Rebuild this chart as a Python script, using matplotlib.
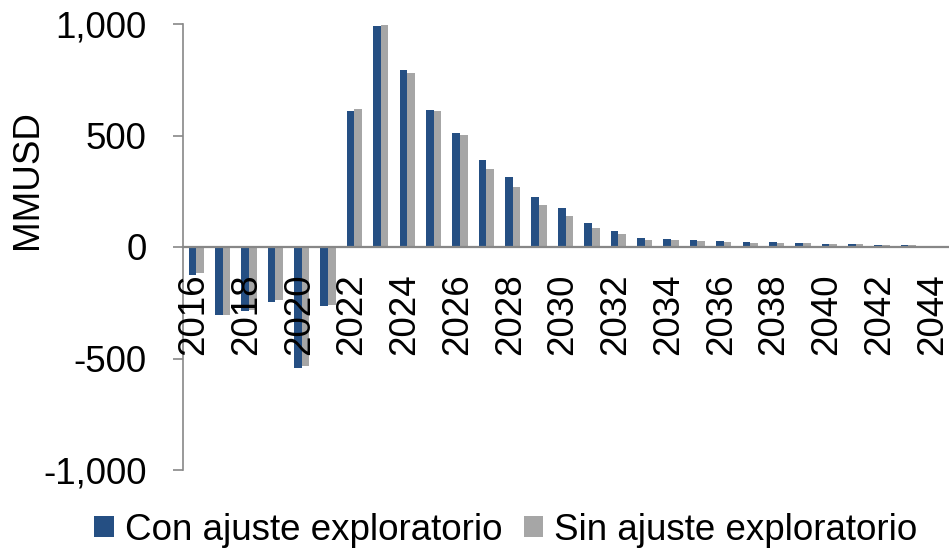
import matplotlib
matplotlib.use("Agg")
import matplotlib.pyplot as plt
from matplotlib.ticker import FuncFormatter, FixedLocator
from matplotlib.transforms import ScaledTranslation
import numpy as np

plt.rcParams['font.family'] = ['Liberation Sans', 'DejaVu Sans']

years = list(range(2016, 2045))
con_ajuste = [-125, -305, -287, -245, -543, -264, 609, 991, 794, 615, 512, 388, 315,
              224, 173, 108, 72, 41, 36, 31, 27, 24, 21, 17, 15, 12, 9, 9, 0]
sin_ajuste = [-118, -305, -282, -239, -533, -261, 620, 997, 779, 612, 503, 351, 269,
              187, 140, 84, 60, 33, 30, 26, 22, 20, 17, 17, 12, 12, 9, 7, 0]
series_names = ["Con ajuste exploratorio", "Sin ajuste exploratorio"]
y_ticks = [-1000, -500, 0, 500, 1000]

BLUE = "#254F83"
GRAY = "#A6A6A6"
AXIS = "#878787"
FS = 26.5

W, H = 949, 554
fig = plt.figure(figsize=(W / 100, H / 100), dpi=100)
ax = fig.add_axes([183 / W, 1 - 470 / H, (948 - 183) / W, (470 - 24) / H])
ax.set_axisbelow(False)  # category labels sit on top of the bars

x = np.arange(len(years))
bw = 0.29
ax.bar(x - bw / 2, con_ajuste, width=bw, color=BLUE, label=series_names[0], zorder=2)
ax.bar(x + bw / 2, sin_ajuste, width=bw, color=GRAY, label=series_names[1], zorder=2)

ax.set_xlim(-0.5, len(years) - 0.5)
ax.set_ylim(-1000, 1000)

# Spines: left axis and category axis through zero
for s in ("top", "right"):
    ax.spines[s].set_visible(False)
ax.spines["left"].set_color(AXIS)
ax.spines["left"].set_linewidth(1.2)
ax.spines["bottom"].set_position(("data", 0))
ax.spines["bottom"].set_color(AXIS)
ax.spines["bottom"].set_linewidth(1.6)
ax.spines["bottom"].set_zorder(3)

ax.yaxis.set_major_locator(FixedLocator(y_ticks))
ax.yaxis.set_major_formatter(FuncFormatter(lambda v, p: f"{v:,.0f}"))
ax.tick_params(axis="y", direction="out", length=7, width=1.2, color=AXIS,
               labelsize=FS, pad=19)

ax.set_xticks(x[::2])
ax.set_xticklabels([str(y) for y in years[::2]], rotation=90, fontsize=FS,
                   va="top", ha="center")
ax.tick_params(axis="x", length=0, pad=19)
shift = ScaledTranslation(-2.5 / 100, 0, fig.dpi_scale_trans)
for lbl in ax.get_xticklabels():
    lbl.set_transform(lbl.get_transform() + shift)

fig.text(27 / W, 1 - 180 / H, "MMUSD", rotation=90, fontsize=FS,
         ha="center", va="center")

fig.legend(loc="center", bbox_to_anchor=(506 / W, 1 - 530 / H), ncol=2,
           frameon=False, fontsize=FS, handlelength=0.52, handleheight=0.52,
           handletextpad=0.3, columnspacing=0.6, borderaxespad=0, borderpad=0)

fig.savefig("out.png", dpi=100)
